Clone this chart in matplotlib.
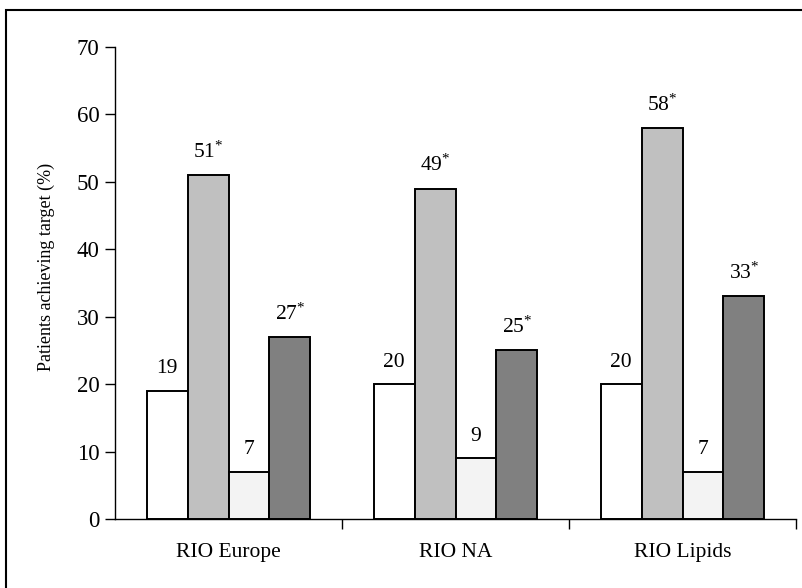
import numpy as np
import matplotlib
matplotlib.use('Agg')
import matplotlib.pyplot as plt
from matplotlib.patches import Rectangle

plt.rcParams['font.family'] = ['Liberation Serif', 'DejaVu Serif']
plt.rcParams['mathtext.fontset'] = 'stix'

groups = ['RIO Europe', 'RIO NA', 'RIO Lipids']
series_a = [19, 20, 20]
series_b = [51, 49, 58]
series_c = [7, 9, 7]
series_d = [27, 25, 33]
star_b = [True, True, True]
star_d = [True, True, True]

fig = plt.figure(figsize=(8.02, 5.88), dpi=100)
ax = fig.add_axes([115/802, 1-519/588, (796-115)/802, (519-47)/588])

x = np.arange(len(groups))
w = 0.18
styles = [
    (series_a, 'white', None),
    (series_b, '#c0c0c0', star_b),
    (series_c, '#f3f3f3', None),
    (series_d, '#808080', star_d),
]
for i, (vals, col, stars) in enumerate(styles):
    pos = x + (i - 1.5) * w
    ax.bar(pos, vals, width=w, color=col, edgecolor='black', linewidth=1.4)
    for j, (p, v) in enumerate(zip(pos, vals)):
        if stars is not None and stars[j]:
            lab = r'$\mathregular{%d^{*}}$' % v
        else:
            lab = str(v)
        ax.annotate(lab, (p, v), xytext=(0, 9), textcoords='offset points',
                    ha='center', va='bottom', fontsize=15.5)

ax.set_xlim(-0.5, 2.5)
ax.set_ylim(0, 70)
ax.set_yticks(range(0, 71, 10))
ax.set_xticks([0.5, 1.5, 2.5], minor=False)
ax.set_xticklabels([])
ax.set_xticks(x, minor=True)
ax.set_xticklabels(groups, minor=True, fontsize=15.5)
ax.tick_params(axis='x', which='minor', length=0, pad=17)
ax.tick_params(axis='x', which='major', length=7, width=1, direction='out')
ax.tick_params(axis='y', length=7, width=1, direction='out', labelsize=16.5, pad=4)
ax.set_ylabel('Patients achieving target (%)', fontsize=13)
ax.yaxis.set_label_coords(-(115-55)/681, (519-267)/472)

for s in ['top', 'right']:
    ax.spines[s].set_visible(False)
for s in ['left', 'bottom']:
    ax.spines[s].set_linewidth(1.0)

fig.patches.append(Rectangle((6/802, -0.1), 1.2, 1.1 - 10/588, transform=fig.transFigure,
                             fill=False, edgecolor='black', linewidth=1.5))

fig.savefig('out.png', dpi=100)
